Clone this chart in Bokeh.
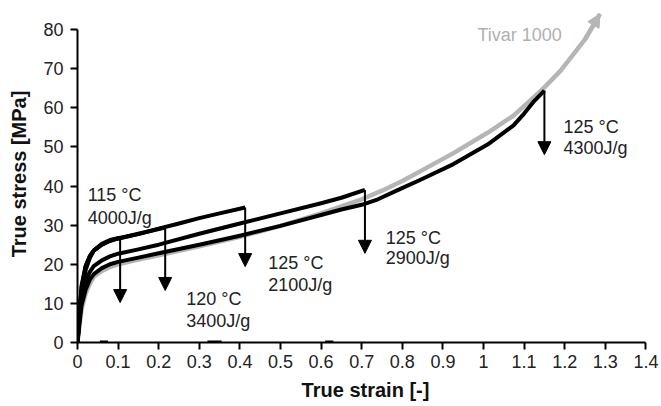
from bokeh.plotting import figure
from bokeh.models import Range1d, Arrow, NormalHead, FixedTicker, ColumnDataSource
from bokeh.embed import file_html
from bokeh.resources import INLINE
from bokeh.core.properties import value

# ---------------- data ----------------
x_ticks = [0, 0.1, 0.2, 0.3, 0.4, 0.5, 0.6, 0.7, 0.8, 0.9, 1.0, 1.1, 1.2, 1.3, 1.4]
x_tick_labels = ["0", "0.1", "0.2", "0.3", "0.4", "0.5", "0.6", "0.7", "0.8", "0.9",
                 "1", "1.1", "1.2", "1.3", "1.4"]
y_ticks = [0, 10, 20, 30, 40, 50, 60, 70, 80]

tivar_strain = [0, 0.005, 0.01, 0.02, 0.03, 0.04, 0.06, 0.08, 0.1, 0.15, 0.2, 0.3, 0.4,
                0.5, 0.6, 0.7, 0.75, 0.8, 0.845, 0.926, 1.01, 1.074, 1.123, 1.15,
                1.19, 1.25, 1.287]
tivar_stress = [0, 4.5, 8.5, 12.5, 15, 16.8, 18.3, 19.3, 20, 21.2, 22.3, 24.6, 27,
                29.8, 33, 36.6, 38.8, 41.3, 43.8, 48.4, 53.6, 58, 62.6, 65.2,
                69.5, 77.5, 84]

c115_4000_strain = [0, 0.005, 0.01, 0.02, 0.03, 0.04, 0.06, 0.08, 0.105]
c115_4000_stress = [0, 7, 13, 18.5, 21.5, 23.5, 25.2, 26.2, 26.8]

c120_3400_strain = [0, 0.005, 0.01, 0.02, 0.03, 0.04, 0.06, 0.08, 0.1, 0.15, 0.216]
c120_3400_stress = [0, 8, 14, 19.5, 22, 23.5, 25, 26, 26.6, 27.8, 29.4]

c125_2100_strain = [0, 0.005, 0.01, 0.02, 0.03, 0.04, 0.06, 0.08, 0.1, 0.15, 0.2, 0.25,
                    0.3, 0.35, 0.413]
c125_2100_stress = [0, 8.5, 14.5, 19.5, 22, 23.5, 25, 26, 26.6, 27.7, 29.1, 30.4,
                    31.8, 33, 34.5]

c125_2900_strain = [0, 0.005, 0.01, 0.02, 0.03, 0.04, 0.06, 0.08, 0.1, 0.15, 0.2, 0.3,
                    0.4, 0.5, 0.6, 0.65, 0.708]
c125_2900_stress = [0, 6, 11, 15.5, 18, 19.5, 21, 22, 22.7, 23.8, 25, 27.8,
                    30.4, 33, 35.6, 37, 39]

c125_4300_strain = [0, 0.005, 0.01, 0.02, 0.03, 0.04, 0.06, 0.08, 0.1, 0.15, 0.2, 0.3,
                    0.4, 0.5, 0.6, 0.65, 0.7, 0.74, 0.79, 0.845, 0.926, 1.01, 1.074,
                    1.1, 1.123, 1.15]
c125_4300_stress = [0, 5, 9.5, 13.5, 16, 17.5, 19, 20, 20.6, 21.7, 22.8, 25,
                    27.3, 29.8, 32.6, 34, 35.2, 36.6, 39, 41.6, 45.6, 50.6, 55.5,
                    58.5, 61.5, 64.4]

# stress reached after the drop at the end of each irradiated-sample curve
drop_to_stress = [10.2, 13.3, 19.4, 22.8, 48.0]

label_line1 = ["115 \u00b0C", "120 \u00b0C", "125 \u00b0C", "125 \u00b0C", "125 \u00b0C"]
label_line2 = ["4000J/g", "3400J/g", "2100J/g", "2900J/g", "4300J/g"]

# small residual marks on the strain axis
axis_mark_start = [0.055, 0.32, 0.61]
axis_mark_end = [0.075, 0.355, 0.63]

# ---------------- layout ----------------
PX_X = 406.0      # pixels per unit strain
PX_Y = 3.9125     # pixels per MPa
FRAME_W = 576
FRAME_H = 337

# label anchors (strain, stress) for the two-line annotations
lab_x = [0.025, 0.268, 0.470, 0.759, 1.197]
lab_y1 = [37.6, 11.2, 20.2, 26.8, 55.0]
lab_y2 = [31.9, 5.6, 14.6, 21.5, 49.6]

p = figure(width=661, height=406, output_backend="svg", toolbar_location=None,
           x_range=Range1d(0, FRAME_W / PX_X), y_range=Range1d(0, FRAME_H / PX_Y),
           min_border_left=77, min_border_right=8, min_border_top=5, min_border_bottom=64)
p.outline_line_color = None
p.grid.visible = False
p.background_fill_color = "white"
p.border_fill_color = "white"

FONT = "Liberation Sans"
for ax in (p.xaxis[0], p.yaxis[0]):
    ax.axis_line_width = 2
    ax.axis_line_color = "black"
    ax.major_tick_line_width = 2
    ax.major_tick_line_color = "black"
    ax.major_tick_out = 7
    ax.major_tick_in = 0
    ax.minor_tick_line_color = None
    ax.major_label_text_font = FONT
    ax.major_label_text_font_size = "18px"
    ax.major_label_text_color = "#222222"
    ax.axis_label_text_font = FONT
    ax.axis_label_text_font_size = "20px"
    ax.axis_label_text_font_style = "bold"
    ax.axis_label_text_color = "#111111"

p.xaxis.ticker = FixedTicker(ticks=x_ticks)
p.xaxis.major_label_overrides = {t: s for t, s in zip(x_ticks, x_tick_labels)}
p.xaxis.bounds = (x_ticks[0], x_ticks[-1])
p.xaxis.axis_label = "True strain [-]"
p.xaxis.major_label_standoff = 5
p.xaxis.axis_label_standoff = 8

p.yaxis.ticker = FixedTicker(ticks=y_ticks)
p.yaxis.bounds = (y_ticks[0], y_ticks[-1])
p.yaxis.axis_label = "True stress [MPa]"
p.yaxis.major_label_standoff = 7
p.yaxis.axis_label_standoff = 10

# Tivar reference curve (grey) with arrow head at its end
p.line(tivar_strain, tivar_stress, line_color="#b5b5b5", line_width=4.5,
       line_join="round")
p.add_layout(Arrow(end=NormalHead(size=13, fill_color="#b5b5b5", line_color="#b5b5b5"),
                   x_start=tivar_strain[-2], y_start=tivar_stress[-2],
                   x_end=tivar_strain[-1], y_end=tivar_stress[-1],
                   line_color="#b5b5b5", line_width=4.5))

curves = [(c115_4000_strain, c115_4000_stress), (c120_3400_strain, c120_3400_stress),
          (c125_2100_strain, c125_2100_stress), (c125_2900_strain, c125_2900_stress),
          (c125_4300_strain, c125_4300_stress)]
for xs, ys in curves:
    p.line(xs, ys, line_color="black", line_width=4, line_join="round")

# residual marks on the axis
p.segment(x0=axis_mark_start, y0=[0] * 3, x1=axis_mark_end, y1=[0] * 3,
          line_color="black", line_width=4)

# drop arrows at the end of each curve
arr_src = ColumnDataSource(dict(
    xs=[c[0][-1] for c in curves], ys=[c[1][-1] for c in curves],
    xe=[c[0][-1] for c in curves], ye=drop_to_stress))
p.add_layout(Arrow(end=NormalHead(size=13, fill_color="black", line_color="black"),
                   x_start="xs", y_start="ys", x_end="xe", y_end="ye",
                   line_color="black", line_width=2, source=arr_src))

# annotations
p.text(x=lab_x, y=lab_y1, text=label_line1, text_font=value(FONT), text_font_size="18px",
       text_color="#222222", text_align="left", text_baseline="alphabetic")
p.text(x=lab_x, y=lab_y2, text=label_line2, text_font=value(FONT), text_font_size="18px",
       text_color="#222222", text_align="left", text_baseline="alphabetic")
p.text(x=[0.985], y=[78.5], text=["Tivar 1000"], text_font=value(FONT),
       text_font_size="18px", text_color="#b0b0b0", text_align="left",
       text_baseline="alphabetic")

open("out.html", "w").write(file_html(p, INLINE))
